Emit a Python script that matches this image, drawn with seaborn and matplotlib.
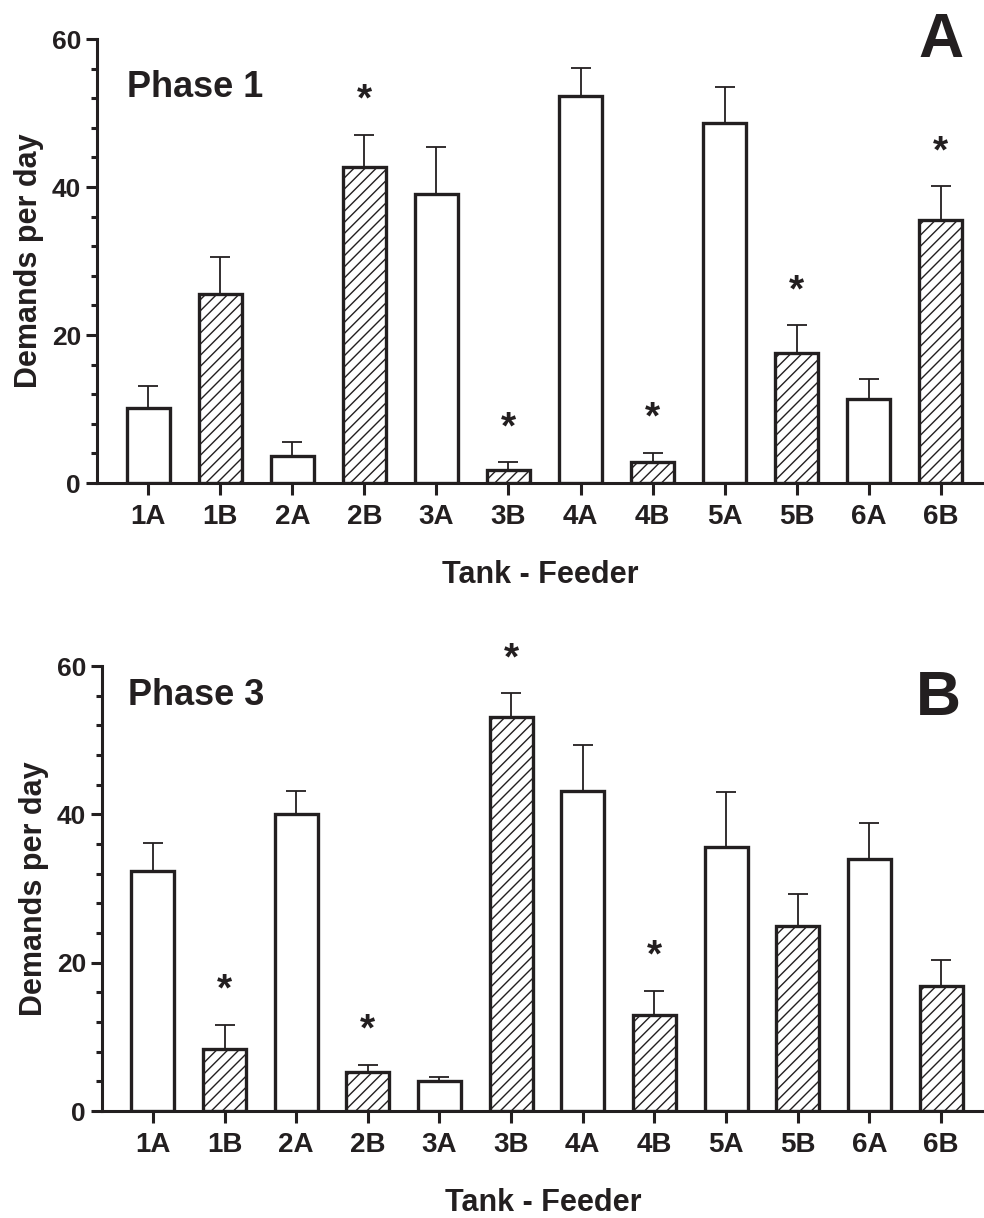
import numpy as np
import pandas as pd
import matplotlib
matplotlib.use("Agg")
import matplotlib.pyplot as plt
from matplotlib.ticker import MultipleLocator
import seaborn as sns

# ---------------- data ----------------
feeders = ["1A", "1B", "2A", "2B", "3A", "3B", "4A", "4B", "5A", "5B", "6A", "6B"]

phase1_mean = [10.2, 25.6, 3.7, 42.7, 39.1, 1.8, 52.3, 2.9, 48.7, 17.6, 11.3, 35.6]
phase1_sem = [2.9, 4.9, 1.8, 4.4, 6.3, 1.0, 3.8, 1.2, 4.8, 3.7, 2.7, 4.5]
phase1_sig = ["2B", "3B", "4B", "5B", "6B"]

phase3_mean = [32.3, 8.4, 40.1, 5.2, 4.0, 53.1, 43.1, 12.9, 35.6, 25.0, 34.0, 16.8]
phase3_sem = [3.9, 3.2, 3.0, 1.0, 0.6, 3.2, 6.2, 3.3, 7.4, 4.2, 4.8, 3.5]
phase3_sig = ["1B", "2B", "3B", "4B"]

y_ticks = [0, 20, 40, 60]
x_label = "Tank - Feeder"
y_label = "Demands per day"

# ---------------- style ----------------
sns.set_theme(style="ticks")
ink = "#231f20"
plt.rcParams["font.family"] = ["Liberation Sans", "DejaVu Sans"]
plt.rcParams["font.weight"] = "bold"
plt.rcParams["hatch.linewidth"] = 1.0
plt.rcParams["hatch.color"] = ink
plt.rcParams["text.color"] = ink
plt.rcParams["axes.labelcolor"] = ink

fig = plt.figure(figsize=(9.84, 12.18), dpi=100)
axA = fig.add_axes([0.0986, 0.6034, 0.9014, 0.3645])
axB = fig.add_axes([0.1037, 0.0878, 0.8963, 0.3654])


def draw_panel(ax, means, sems, sig, phase_text, phase_pos):
    df = pd.DataFrame({"feeder": feeders, "mean": means})
    sns.barplot(data=df, x="feeder", y="mean", order=feeders, ax=ax,
                color="white", saturation=1, edgecolor=ink, linewidth=2.4,
                width=0.6, errorbar=None, zorder=3)
    for patch, f in zip(ax.patches, feeders):
        patch.set_facecolor("white")
        if f.endswith("B"):
            patch.set_hatch("///")
    xs = np.arange(len(feeders))
    ax.errorbar(xs, means, yerr=sems, fmt="none", ecolor=ink,
                elinewidth=1.3, capsize=7.5, capthick=1.3, zorder=2)
    for x, m, s, f in zip(xs, means, sems, feeders):
        if f in sig:
            ax.annotate("*", xy=(x, m + s), xytext=(0, 17.5),
                        textcoords="offset points", ha="center",
                        va="baseline", fontsize=28, fontweight="bold",
                        color=ink, annotation_clip=False)
    ax.set_ylim(0, 60)
    ax.set_xlim(-0.71, 11.6)
    ax.set_yticks(y_ticks)
    ax.yaxis.set_minor_locator(MultipleLocator(4))
    ax.set_xlabel(x_label, fontsize=22, fontweight="bold", labelpad=22)
    ax.set_ylabel(y_label, fontsize=22, fontweight="bold", labelpad=5.5)
    for side in ["top", "right"]:
        ax.spines[side].set_visible(False)
    for side in ["left", "bottom"]:
        ax.spines[side].set_linewidth(2.2)
        ax.spines[side].set_color(ink)
    ax.tick_params(axis="y", which="major", length=8, width=2.2,
                   color=ink, labelsize=19, labelcolor=ink, pad=3.5)
    ax.tick_params(axis="y", which="minor", length=4.5, width=2.2, color=ink)
    ax.tick_params(axis="x", which="major", length=8.5, width=2.2,
                   color=ink, labelsize=20, labelcolor=ink, pad=6.5)
    for lab in ax.get_xticklabels() + ax.get_yticklabels():
        lab.set_fontweight("bold")
    ax.text(phase_pos[0], phase_pos[1], phase_text, transform=ax.transAxes,
            fontsize=26, fontweight="bold", va="baseline", ha="left", color=ink)
    ax.set_facecolor("white")


draw_panel(axA, phase1_mean, phase1_sem, phase1_sig, "Phase 1", (0.034, 0.869))
draw_panel(axB, phase3_mean, phase3_sem, phase3_sig, "Phase 3", (0.0295, 0.912))

fig.text(964 / 984, 1 - 57 / 1218, "A", fontsize=45, fontweight="bold",
         ha="right", va="baseline", color=ink)
fig.text(961 / 984, 1 - 715 / 1218, "B", fontsize=45, fontweight="bold",
         ha="right", va="baseline", color=ink)

fig.savefig("out.png", dpi=100, facecolor="white")
